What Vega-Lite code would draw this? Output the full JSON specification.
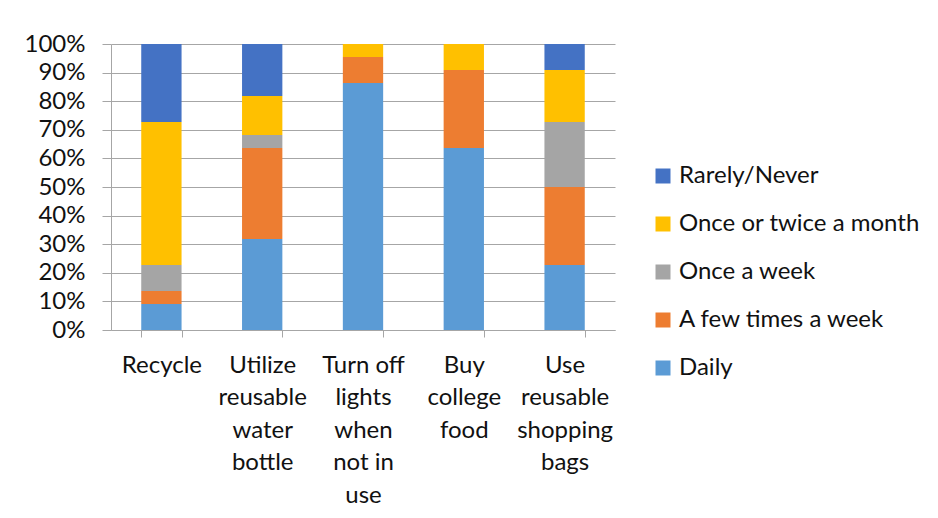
{
  "$schema": "https://vega.github.io/schema/vega-lite/v6.json",
  "width": 504,
  "height": 286,
  "autosize": "none",
  "padding": {"left": 111, "top": 44, "right": 323, "bottom": 188},
  "background": "white",
  "data": {
    "values": [
      {"activity": "Recycle", "frequency": "Daily", "count": 2},
      {"activity": "Recycle", "frequency": "A few times a week", "count": 1},
      {"activity": "Recycle", "frequency": "Once a week", "count": 2},
      {"activity": "Recycle", "frequency": "Once or twice a month", "count": 11},
      {"activity": "Recycle", "frequency": "Rarely/Never", "count": 6},
      {"activity": "Utilize reusable water bottle", "frequency": "Daily", "count": 7},
      {"activity": "Utilize reusable water bottle", "frequency": "A few times a week", "count": 7},
      {"activity": "Utilize reusable water bottle", "frequency": "Once a week", "count": 1},
      {"activity": "Utilize reusable water bottle", "frequency": "Once or twice a month", "count": 3},
      {"activity": "Utilize reusable water bottle", "frequency": "Rarely/Never", "count": 4},
      {"activity": "Turn off lights when not in use", "frequency": "Daily", "count": 19},
      {"activity": "Turn off lights when not in use", "frequency": "A few times a week", "count": 2},
      {"activity": "Turn off lights when not in use", "frequency": "Once a week", "count": 0},
      {"activity": "Turn off lights when not in use", "frequency": "Once or twice a month", "count": 1},
      {"activity": "Turn off lights when not in use", "frequency": "Rarely/Never", "count": 0},
      {"activity": "Buy college food", "frequency": "Daily", "count": 14},
      {"activity": "Buy college food", "frequency": "A few times a week", "count": 6},
      {"activity": "Buy college food", "frequency": "Once a week", "count": 0},
      {"activity": "Buy college food", "frequency": "Once or twice a month", "count": 2},
      {"activity": "Buy college food", "frequency": "Rarely/Never", "count": 0},
      {"activity": "Use reusable shopping bags", "frequency": "Daily", "count": 5},
      {"activity": "Use reusable shopping bags", "frequency": "A few times a week", "count": 6},
      {"activity": "Use reusable shopping bags", "frequency": "Once a week", "count": 5},
      {"activity": "Use reusable shopping bags", "frequency": "Once or twice a month", "count": 4},
      {"activity": "Use reusable shopping bags", "frequency": "Rarely/Never", "count": 2}
    ]
  },
  "transform": [
    {"calculate": "indexof(['Daily','A few times a week','Once a week','Once or twice a month','Rarely/Never'], datum.frequency)", "as": "stackOrder"}
  ],
  "mark": {"type": "bar"},
  "encoding": {
    "x": {
      "field": "activity",
      "type": "nominal",
      "sort": null,
      "scale": {"paddingInner": 0.6, "paddingOuter": 0.3},
      "axis": {
        "title": null,
        "labelAngle": 0,
        "labelFont": "Lato",
        "labelFontSize": 24,
        "labelColor": "#111111",
        "labelLineHeight": 32.5,
        "labelPadding": 16,
        "labelLimit": 200,
        "tickBand": "extent",
        "tickSize": 7,
        "tickColor": "#a6a6a6",
        "domainColor": "#a6a6a6",
        "labelExpr": "datum.value == 'Utilize reusable water bottle' ? ['Utilize','reusable','water','bottle'] : datum.value == 'Turn off lights when not in use' ? ['Turn off','lights','when','not in','use'] : datum.value == 'Buy college food' ? ['Buy','college','food'] : datum.value == 'Use reusable shopping bags' ? ['Use','reusable','shopping','bags'] : datum.value"
      }
    },
    "y": {
      "field": "count",
      "type": "quantitative",
      "stack": "normalize",
      "scale": {"domain": [0, 1]},
      "axis": {
        "title": null,
        "format": ".0%",
        "values": [0, 0.1, 0.2, 0.3, 0.4, 0.5, 0.6, 0.7, 0.8, 0.9, 1],
        "labelFont": "Lato",
        "labelFontSize": 24,
        "labelColor": "#111111",
        "tickSize": 9,
        "tickColor": "#a6a6a6",
        "gridColor": "#a6a6a6",
        "domainColor": "#a6a6a6",
        "labelPadding": 17
      }
    },
    "color": {
      "field": "frequency",
      "type": "nominal",
      "scale": {
        "domain": ["Rarely/Never", "Once or twice a month", "Once a week", "A few times a week", "Daily"],
        "range": ["#4472C4", "#FFC000", "#A5A5A5", "#ED7D31", "#5B9BD5"]
      },
      "legend": {
        "title": null,
        "orient": "none",
        "legendX": 540,
        "legendY": 120,
        "symbolType": "square",
        "symbolSize": 225,
        "symbolStrokeWidth": 0,
        "labelFont": "Lato",
        "labelFontSize": 24,
        "labelColor": "#111111",
        "labelLimit": 400,
        "labelOffset": 4,
        "rowPadding": 24
      }
    },
    "order": {"field": "stackOrder", "type": "quantitative"}
  },
  "config": {
    "view": {"stroke": null},
    "axis": {"domainWidth": 1, "gridWidth": 1}
  }
}
